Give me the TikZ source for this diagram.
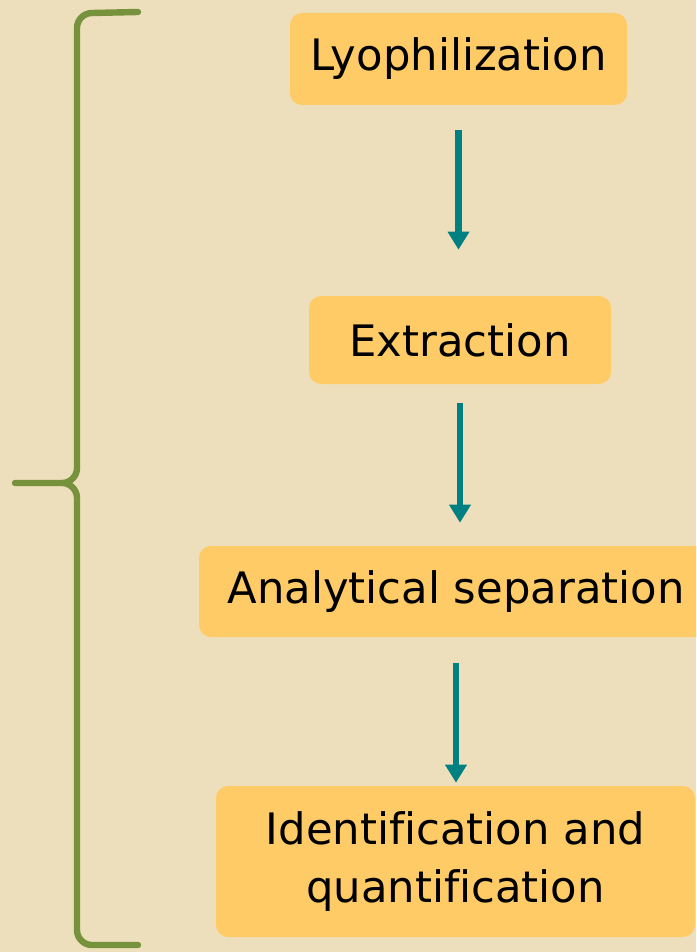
\documentclass[tikz,border=0pt]{standalone}
\usepackage{fontspec}
\setmainfont[Ligatures={NoCommon}]{DejaVu Sans}
\usetikzlibrary{arrows.meta}

\definecolor{parchment}{RGB}{238,223,188}
\definecolor{stepfill}{RGB}{254,203,102}
\definecolor{flowteal}{RGB}{0,128,128}
\definecolor{braceolive}{RGB}{118,146,60}

\begin{document}
\begin{tikzpicture}[
    x=0.75pt, y=-0.75pt,
    every node/.style={align=center, font=\fontsize{32.5}{44}\selectfont},
    stepbox/.style={fill=stepfill, rounded corners=9pt, inner sep=0pt},
    flowarrow/.style={draw=flowteal, line width=5pt,
        -{Triangle[width=15.5pt, length=13.5pt]}},
    bracepath/.style={draw=braceolive, line width=4.8pt, line cap=round, line join=round}
]

\clip (0,0) rectangle (696,952);
\fill[parchment] (0,0) rectangle (696,952);

% process steps
\node[stepbox, minimum width=252.75pt, minimum height=69pt] (lyo) at (458.5,59) {Lyophilization};
\node[stepbox, minimum width=226.5pt, minimum height=66pt] (ext) at (460,340) {Extraction};
\node[stepbox, minimum width=385.5pt, minimum height=68.25pt] (ana) at (456,591.5) {Analytical separation};
\node[stepbox, minimum width=359.25pt, minimum height=113.25pt] (idq) at (455.5,861.5) {Identification and\\quantification};

% arrows between steps
\draw[flowarrow, shorten <=18.75pt, shorten >=34.5pt] (lyo.south) -- (lyo.south |- ext.north);
\draw[flowarrow, shorten <=14.25pt, shorten >=17.25pt] (ext.south) -- (ext.south |- ana.north);
\draw[flowarrow, shorten <=19.5pt, shorten >=2.25pt] (ana.south) -- (ana.south |- idq.north);

% brace on the left
\draw[bracepath] (138,12) -- (92,13) to[out=180,in=90] (77,28) -- (77,468)
    to[out=-90,in=0] (62,483) -- (15,483) -- (62,483)
    to[out=0,in=90] (77,498) -- (77,930) to[out=-90,in=180] (92,945) -- (138,945);
\end{tikzpicture}
\end{document}
